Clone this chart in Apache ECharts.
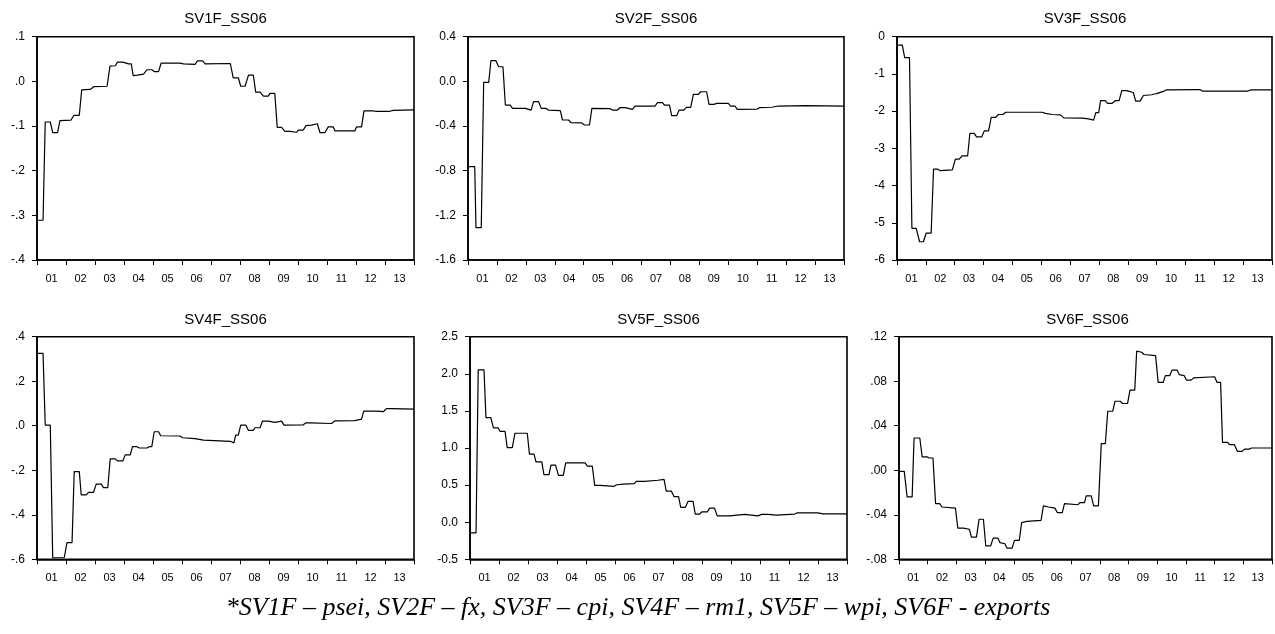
<!DOCTYPE html>
<html>
<head>
<meta charset="utf-8">
<script src="https://cdn.jsdelivr.net/npm/echarts@6/dist/echarts.min.js"></script>
<style>
html,body{margin:0;padding:0;background:#fff;}
#chart{width:1275px;height:634px;}
</style>
</head>
<body>
<div id="chart"></div>
<script>
// ---- Data (x = month index from Jan 2001, y = value) ----
const yearLabels = ['01','02','03','04','05','06','07','08','09','10','11','12','13'];
const panelTitles = ['SV1F_SS06','SV2F_SS06','SV3F_SS06','SV4F_SS06','SV5F_SS06','SV6F_SS06'];
const caption = '*SV1F \u2013 psei, SV2F \u2013 fx, SV3F \u2013 cpi, SV4F \u2013 rm1, SV5F \u2013 wpi, SV6F - exports';

const sv1 = [[0,-0.311],[2.5,-0.311],[3.4,-0.091],[5.5,-0.091],[6.5,-0.115],[8.5,-0.115],[9.5,-0.088],[14,-0.087],[15.3,-0.076],[17.5,-0.076],[18.5,-0.019],[22,-0.018],[23.5,-0.012],[29,-0.011],[30.2,0.034],[32.4,0.035],[33.3,0.043],[35.5,0.043],[37.9,0.039],[39,0.039],[39.8,0.013],[41.6,0.014],[44.1,0.016],[45.5,0.026],[47.5,0.026],[48.5,0.022],[50.3,0.022],[51.4,0.041],[59.2,0.041],[60.6,0.039],[65.4,0.038],[66.4,0.046],[68.5,0.046],[69.6,0.039],[80,0.040],[81.2,0.008],[83.3,0.008],[84.3,-0.011],[86.1,-0.011],[87.5,0.014],[89.5,0.014],[90.5,-0.024],[92.3,-0.024],[93.7,-0.033],[95.7,-0.033],[96.4,-0.027],[98.4,-0.027],[99.4,-0.103],[101.2,-0.103],[102.6,-0.112],[104.7,-0.112],[105.4,-0.114],[107.4,-0.114],[108.1,-0.109],[110.2,-0.109],[111.3,-0.099],[113.6,-0.098],[114.3,-0.095],[116,-0.095],[117.1,-0.115],[119.1,-0.115],[120.5,-0.102],[122.6,-0.102],[123.3,-0.111],[131.5,-0.111],[132.2,-0.102],[134.3,-0.102],[135.3,-0.066],[139.1,-0.066],[140,-0.067],[146,-0.067],[147.4,-0.065],[156,-0.064]];
const sv1Ticks = ['-.4','-.3','-.2','-.1','.0','.1'];

const sv2 = [[0,-0.764],[2.8,-0.764],[3.3,-1.31],[5.5,-1.31],[6.5,-0.009],[8.6,-0.009],[9.5,0.185],[11.6,0.185],[12.7,0.131],[14.5,0.131],[15.5,-0.212],[17.5,-0.212],[18.5,-0.242],[23.8,-0.242],[24.5,-0.257],[26.2,-0.257],[27.2,-0.182],[29.3,-0.182],[30.4,-0.242],[32.3,-0.242],[33.4,-0.257],[38.3,-0.262],[39.2,-0.346],[41.7,-0.346],[42.7,-0.370],[47.2,-0.372],[48.3,-0.391],[50.4,-0.391],[51.4,-0.242],[59,-0.245],[60,-0.257],[62,-0.257],[63,-0.236],[65.2,-0.236],[65.9,-0.251],[68.2,-0.251],[69.3,-0.221],[77.6,-0.221],[78.6,-0.191],[80.7,-0.191],[81.5,-0.212],[83.6,-0.212],[84.5,-0.307],[86.6,-0.307],[87.6,-0.257],[89.6,-0.257],[90.6,-0.233],[92.4,-0.233],[93.5,-0.116],[95.6,-0.116],[96.5,-0.093],[99,-0.093],[100,-0.206],[102,-0.206],[103.2,-0.197],[108,-0.197],[109,-0.221],[110.8,-0.221],[111.7,-0.251],[120,-0.248],[120.9,-0.236],[126,-0.232],[128.7,-0.221],[140,-0.218],[156,-0.221]];
const sv2Ticks = ['-1.6','-1.2','-0.8','-0.4','0.0','0.4'];

const sv3 = [[0,-0.224],[2.2,-0.224],[3.2,-0.564],[5.2,-0.564],[6.2,-5.15],[8.0,-5.15],[9.4,-5.51],[11,-5.51],[12.1,-5.28],[14.2,-5.28],[15.2,-3.56],[17,-3.56],[18,-3.60],[23,-3.58],[24.3,-3.29],[25.9,-3.29],[27,-3.20],[29.4,-3.20],[30.3,-2.60],[32.1,-2.60],[33.1,-2.69],[35.3,-2.69],[36.3,-2.53],[38.1,-2.53],[39.2,-2.17],[41.1,-2.17],[42.2,-2.09],[44.1,-2.09],[45.2,-2.03],[60.4,-2.03],[61.8,-2.06],[64.6,-2.09],[68,-2.10],[69.4,-2.18],[77,-2.19],[77.7,-2.21],[79.7,-2.21],[80.5,-2.24],[81.8,-2.24],[82.7,-2.04],[83.9,-2.04],[84.7,-1.72],[86.6,-1.72],[87.6,-1.79],[89.5,-1.79],[90.8,-1.72],[92.4,-1.72],[93.5,-1.45],[95.6,-1.45],[96.3,-1.50],[98.3,-1.50],[99.3,-1.73],[101.1,-1.73],[102.5,-1.58],[106,-1.56],[107,-1.54],[108,-1.53],[108.7,-1.48],[110.8,-1.47],[112,-1.43],[126,-1.42],[127,-1.46],[146,-1.46],[147.3,-1.43],[156,-1.43]];
const sv3Ticks = ['-6','-5','-4','-3','-2','-1','0'];

const sv4 = [[0,0.325],[2.5,0.325],[3.4,0.003],[5.5,0.003],[6.5,-0.593],[11.3,-0.592],[12.4,-0.525],[14.5,-0.525],[15.4,-0.206],[17.5,-0.206],[18.3,-0.311],[20.4,-0.311],[21.3,-0.299],[23.4,-0.299],[24.5,-0.262],[26.6,-0.262],[27.5,-0.278],[29.3,-0.278],[30.3,-0.149],[32.4,-0.149],[33.3,-0.158],[35.5,-0.158],[36.5,-0.131],[38.6,-0.131],[39.5,-0.094],[41.3,-0.094],[42.4,-0.100],[45.5,-0.100],[46.4,-0.094],[47.5,-0.094],[48.5,-0.027],[50.3,-0.027],[51.2,-0.045],[59.2,-0.046],[60.2,-0.054],[65.4,-0.058],[66,-0.063],[68.9,-0.065],[69.6,-0.072],[80,-0.070],[80.6,-0.077],[81.5,-0.077],[82.2,-0.042],[83.3,-0.042],[84.3,0.003],[86.4,0.003],[87.5,-0.021],[89.5,-0.021],[90.2,-0.009],[92.3,-0.009],[93.3,0.021],[95.7,0.021],[96.4,0.015],[98.5,0.015],[99.2,0.021],[101.2,0.021],[102.2,0.003],[110.2,0.004],[111.3,0.013],[113,0.013],[113.6,0.009],[121.9,0.010],[123.3,0.022],[131.5,0.023],[132.2,0.030],[134.3,0.030],[135.2,0.066],[140.5,0.066],[141.2,0.063],[143.3,0.063],[144.6,0.077],[146.7,0.077],[147.4,0.075],[156,0.075]];
const sv4Ticks = ['-.6','-.4','-.2','.0','.2','.4'];

const sv5 = [[0,-0.143],[2.5,-0.143],[3.4,2.053],[5.8,2.053],[6.6,1.409],[8.6,1.409],[9.7,1.270],[11.7,1.270],[12.4,1.225],[14.5,1.225],[15.4,1.006],[17.5,1.006],[18.6,1.199],[23.7,1.199],[24.6,0.917],[26.5,0.917],[27.3,0.814],[29.7,0.814],[30.6,0.640],[32.7,0.640],[33.5,0.769],[35.4,0.769],[36.6,0.631],[38.6,0.631],[39.6,0.800],[47.6,0.800],[48.6,0.756],[50.6,0.756],[51.6,0.496],[53.8,0.496],[54.5,0.483],[59.6,0.483],[60.7,0.505],[63.4,0.514],[68,0.52],[68.8,0.55],[72.3,0.55],[73,0.565],[77.8,0.565],[78.5,0.578],[80.3,0.578],[81.2,0.42],[83.3,0.42],[84.4,0.345],[86.3,0.345],[87.2,0.20],[89.1,0.20],[90.2,0.28],[92.3,0.28],[93.2,0.11],[95,0.11],[96,0.14],[98.2,0.14],[99.2,0.19],[101.2,0.19],[102.3,0.085],[107.4,0.085],[108.1,0.105],[113.7,0.105],[114.3,0.095],[119.2,0.085],[120.6,0.105],[123.3,0.105],[124,0.095],[126.8,0.095],[127.4,0.11],[134.3,0.11],[135.3,0.125],[144,0.125],[146,0.112],[156,0.112]];
const sv5Ticks = ['-0.5','0.0','0.5','1.0','1.5','2.0','2.5'];

const sv6 = [[0,-0.001],[2.2,-0.001],[3.4,-0.024],[5.5,-0.024],[6.3,0.029],[8.7,0.029],[9.7,0.012],[11.7,0.012],[12.6,0.011],[14.2,0.011],[15.3,-0.030],[17,-0.030],[18,-0.033],[23.6,-0.034],[24.6,-0.052],[27,-0.052],[29.4,-0.053],[30.3,-0.060],[32.4,-0.060],[33.5,-0.044],[35.3,-0.044],[36.3,-0.068],[38.3,-0.068],[39.4,-0.061],[41.4,-0.061],[42.2,-0.065],[44.3,-0.066],[45.2,-0.070],[47.3,-0.070],[48.3,-0.063],[50.3,-0.063],[51.3,-0.047],[53.5,-0.046],[54.2,-0.045],[59.4,-0.045],[60.4,-0.032],[62.5,-0.033],[63.2,-0.034],[65.2,-0.034],[66.2,-0.038],[68.3,-0.038],[69.2,-0.030],[74.9,-0.031],[75.6,-0.029],[77.6,-0.029],[78.3,-0.023],[80.4,-0.023],[81.4,-0.032],[83.4,-0.032],[84.6,0.024],[86.3,0.024],[87.3,0.053],[89.4,0.053],[90.3,0.062],[92.5,0.062],[93.5,0.060],[95.6,0.060],[96.6,0.072],[98.6,0.072],[99.4,0.107],[101.5,0.106],[102.5,0.104],[107.3,0.103],[108.4,0.079],[110.5,0.079],[111.4,0.085],[113.2,0.085],[114.2,0.090],[116.3,0.090],[117.2,0.086],[119.3,0.085],[120.2,0.081],[122.2,0.081],[123.2,0.083],[132,0.084],[133,0.079],[134.5,0.079],[135.3,0.025],[137.5,0.025],[138.2,0.023],[140.3,0.023],[141.5,0.017],[143.5,0.017],[144.5,0.019],[146.5,0.019],[147.5,0.020],[156,0.020]];
const sv6Ticks = ['-.08','-.04','.00','.04','.08','.12'];

const seriesData = [sv1, sv2, sv3, sv4, sv5, sv6];
const tickLabels = [sv1Ticks, sv2Ticks, sv3Ticks, sv4Ticks, sv5Ticks, sv6Ticks];
const yMins = [-0.4, -1.6, -6, -0.6, -0.5, -0.08];
const yMaxs = [0.1, 0.4, 0, 0.4, 2.5, 0.12];
const yIntervals = [0.1, 0.4, 1, 0.2, 0.5, 0.04];
const monthsTotal = 156;

// ---- Layout ----
const grids = [
  {left: 37,  top: 36.7,  width: 377, height: 223.3},
  {left: 468, top: 36.7,  width: 376, height: 223.3},
  {left: 897, top: 36.7,  width: 376, height: 223.3},
  {left: 37,  top: 336.7, width: 377, height: 222.6},
  {left: 470, top: 336.7, width: 377, height: 222.6},
  {left: 899, top: 336.7, width: 377, height: 222.6}
];
const titleY = [19, 19, 19, 320, 320, 320];

const FONT = '"Liberation Sans", Arial, sans-serif';
const option = {
  animation: false,
  backgroundColor: '#fff',
  grid: [], xAxis: [], yAxis: [], series: [], graphic: []
};

grids.forEach((g, i) => {
  option.grid.push(Object.assign({show: true, borderColor: '#000', borderWidth: 1.6, backgroundColor: 'transparent', containLabel: false}, g));
  // tick axis (year boundaries)
  option.xAxis.push({
    type: 'value', gridIndex: i, min: 0, max: monthsTotal, interval: 12, position: 'bottom',
    axisLine: {show: true, onZero: false, lineStyle: {color: '#000', width: 1.6}},
    axisTick: {show: true, length: 5, lineStyle: {color: '#000', width: 1}},
    axisLabel: {show: false}, splitLine: {show: false}
  });
  // label axis (year labels centred in each year)
  option.xAxis.push({
    type: 'value', gridIndex: i, min: 0, max: monthsTotal, interval: 6, position: 'bottom',
    axisLine: {show: false, onZero: false}, axisTick: {show: false}, splitLine: {show: false},
    axisLabel: {
      show: true, margin: 13, fontSize: 11, color: '#000', fontFamily: FONT,
      formatter: function (v) {
        const k = Math.round(v);
        return (k % 12 === 6) ? yearLabels[(k - 6) / 12] : '';
      }
    }
  });
  const mn = yMins[i], iv = yIntervals[i], labels = tickLabels[i];
  option.yAxis.push({
    type: 'value', gridIndex: i, min: mn, max: yMaxs[i], interval: iv,
    axisLine: {show: true, onZero: false, lineStyle: {color: '#000', width: 1.6}},
    axisTick: {show: true, length: 5, lineStyle: {color: '#000', width: 1}},
    splitLine: {show: false},
    axisLabel: {
      margin: 12, fontSize: 12, color: '#000', fontFamily: FONT,
      formatter: function (v) {
        const idx = Math.round((v - mn) / iv);
        return labels[idx] !== undefined ? labels[idx] : '';
      }
    }
  });
  option.series.push({
    type: 'line', xAxisIndex: 2 * i, yAxisIndex: i, data: seriesData[i],
    showSymbol: false, symbol: 'none', silent: true,
    lineStyle: {color: '#000', width: 1.2}
  });
  option.graphic.push({
    type: 'text', x: g.left + g.width / 2, y: titleY[i], silent: true,
    style: {text: panelTitles[i], font: '15px ' + FONT, fill: '#000',
      align: 'center', verticalAlign: 'middle', textAlign: 'center', textVerticalAlign: 'middle'}
  });
});

option.graphic.push({
  type: 'text', x: 638, y: 608, silent: true,
  style: {text: caption, font: 'italic 26px "Liberation Serif", "Times New Roman", serif', fill: '#000',
    align: 'center', verticalAlign: 'middle', textAlign: 'center', textVerticalAlign: 'middle'}
});

const chart = echarts.init(document.getElementById('chart'), null, {renderer: 'canvas', width: 1275, height: 634});
chart.setOption(option);
</script>
</body>
</html>
